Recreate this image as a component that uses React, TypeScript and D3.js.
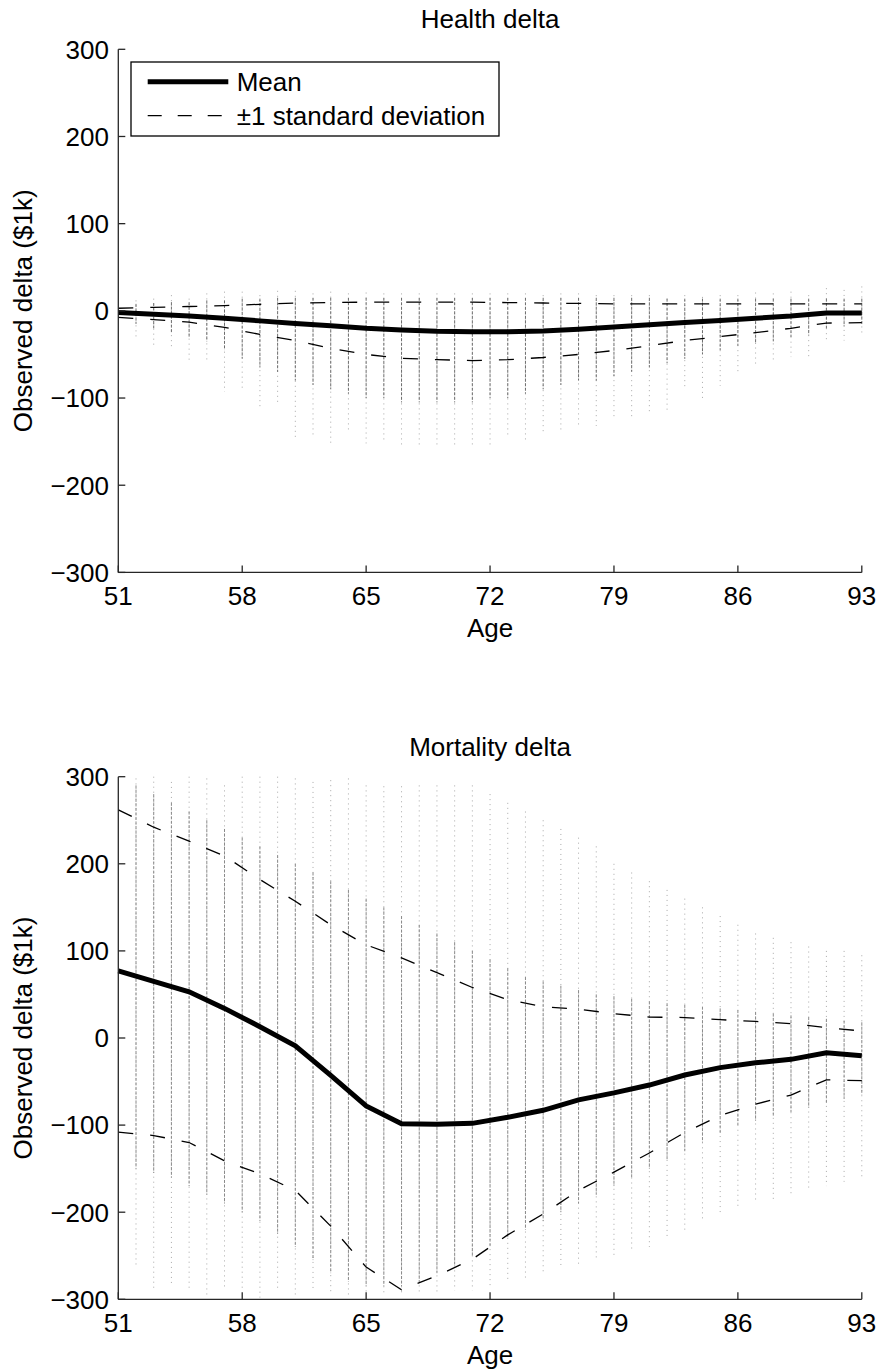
import React, { useEffect, useRef } from "react";
import * as d3 from "d3";

// ages of the summary lines (every 2 years)
const lineAges = [51, 53, 55, 57, 59, 61, 63, 65, 67, 69, 71, 73, 75, 77, 79, 81, 83, 85, 87, 89, 91, 93];
// ages of the scatter columns (one per year)
const colAges = d3.range(52, 94);

// Health delta panel
const healthMean = [-2, -4, -6, -8.5, -11.5, -14.5, -17, -20, -22, -23.5, -24, -24, -23, -21, -18.5, -16, -13.5, -11, -8.5, -6, -2.5, -2.5];
const healthUpper = [3, 4, 5, 6, 7.5, 9, 9.5, 10, 10, 10, 10, 9.5, 9, 8.5, 8, 8, 8, 8, 8, 8, 8, 8];
const healthLower = [-7.5, -10, -13, -19, -27, -34, -43, -50, -54.5, -56, -57, -56, -53.5, -50, -45.5, -40, -34, -29.5, -25, -20, -14, -13.5];
const healthColTop = [12, 14, 18, 14, 20, 22, 22, 18, 23, 23, 20, 22, 20, 21, 20, 20, 20, 20, 20, 20, 20, 20, 20, 18, 20, 20, 18, 18, 18, 18, 14, 18, 16, 18, 18, 21, 20, 22, 18, 26, 24, 28];
const healthColBottom = [-32, -43, -43, -60, -56, -93, -91, -113, -107, -147, -145, -155, -140, -152, -152, -154, -155, -156, -156, -154, -154, -146, -150, -139, -139, -132, -132, -121, -124, -118, -116, -91, -103, -86, -70, -61, -56, -53, -56, -34, -34, -26];
const healthCoreTop = [8, 9, 10, 10, 12, 12, 14, 14, 15, 15, 15, 15, 15, 15, 15, 15, 15, 15, 15, 15, 15, 15, 15, 15, 15, 15, 15, 15, 15, 15, 14, 14, 14, 14, 14, 14, 14, 14, 14, 14, 14, 14];
const healthCoreBottom = [-15, -20, -25, -30, -35, -45, -55, -65, -70, -80, -85, -90, -95, -100, -100, -105, -105, -105, -105, -105, -100, -100, -95, -90, -85, -80, -80, -75, -70, -65, -60, -55, -50, -45, -40, -38, -35, -30, -28, -20, -18, -15];

// Mortality delta panel
const mortMean = [77, 65, 53, 34, 13, -9, -43, -78, -98.5, -99, -98, -91, -83, -71, -63, -54, -42.5, -34, -28.5, -24.5, -17, -20.5];
const mortUpper = [262, 242, 226, 209, 182, 157, 130, 107, 92, 75, 58, 44, 36, 33, 28, 24, 23.5, 21, 19, 16.5, 12, 8];
const mortLower = [-108, -112, -120, -141, -156, -175, -216, -263, -289, -273, -254, -226, -202, -175, -154, -132, -108.5, -89, -76, -65.5, -48, -49];
const mortColTop = [298, 300, 294, 300, 298, 290, 300, 300, 300, 298, 294, 296, 298, 290, 289, 289, 290, 290, 290, 290, 280, 270, 260, 250, 240, 230, 220, 200, 190, 180, 170, 160, 150, 140, 130, 120, 115, 110, 105, 100, 100, 95];
const mortColBottom = [-262, -287, -285, -287, -298, -286, -290, -298, -290, -298, -290, -295, -295, -295, -295, -295, -295, -292, -290, -290, -285, -280, -275, -270, -265, -260, -255, -250, -245, -240, -230, -220, -210, -200, -195, -190, -185, -180, -175, -170, -165, -160];
const mortCoreTop = [290, 280, 270, 260, 250, 240, 230, 220, 210, 200, 190, 180, 170, 160, 150, 140, 130, 120, 110, 100, 90, 80, 70, 65, 60, 55, 50, 48, 45, 42, 40, 38, 36, 34, 32, 30, 28, 26, 24, 22, 20, 18];
const mortCoreBottom = [-150, -155, -160, -170, -180, -190, -200, -210, -225, -240, -255, -270, -280, -285, -285, -285, -280, -270, -260, -250, -240, -230, -220, -210, -200, -190, -180, -170, -160, -150, -140, -130, -120, -110, -100, -95, -90, -85, -80, -75, -70, -65];

const xTicks = [51, 58, 65, 72, 79, 86, 93];
const yTicks = [-300, -200, -100, 0, 100, 200, 300];

const FONT = "'Liberation Sans', Arial, sans-serif";

function App() {
  const ref = useRef<SVGSVGElement>(null);

  useEffect(() => {
    const svg = d3.select(ref.current);
    svg.selectAll("*").remove();

    const width = 881;
    const height = 1372;
    svg.attr("width", width).attr("height", height);

    const x = d3.scaleLinear().domain([51, 93]).range([118.3, 861.8]);

    const panels = [
      {
        title: "Health delta", top: 49.3, bottom: 572.4,
        mean: healthMean, upper: healthUpper, lower: healthLower,
        colTop: healthColTop, colBottom: healthColBottom,
        coreTop: healthCoreTop, coreBottom: healthCoreBottom,
        coreColor: "#6e6e6e", legend: true,
      },
      {
        title: "Mortality delta", top: 776.7, bottom: 1299.3,
        mean: mortMean, upper: mortUpper, lower: mortLower,
        colTop: mortColTop, colBottom: mortColBottom,
        coreTop: mortCoreTop, coreBottom: mortCoreBottom,
        coreColor: "#8a8a8a", legend: false,
      },
    ];

    panels.forEach(p => {
      const y = d3.scaleLinear().domain([-300, 300]).range([p.bottom, p.top]);
      const g = svg.append("g");

      // scatter columns: sparse tails first, then the dense core
      g.selectAll("line.col")
        .data(colAges)
        .enter()
        .append("line")
        .attr("x1", d => x(d)).attr("x2", d => x(d))
        .attr("y1", (d, i) => y(p.colTop[i]))
        .attr("y2", (d, i) => y(p.colBottom[i]))
        .attr("stroke", "#a8a8a8")
        .attr("stroke-width", 1)
        .attr("stroke-dasharray", "1,4");

      g.selectAll("line.core")
        .data(colAges)
        .enter()
        .append("line")
        .attr("x1", d => x(d)).attr("x2", d => x(d))
        .attr("y1", (d, i) => y(p.coreTop[i]))
        .attr("y2", (d, i) => y(p.coreBottom[i]))
        .attr("stroke", p.coreColor)
        .attr("stroke-width", 1)
        .attr("stroke-dasharray", "3,1.5");

      const line = (vals: number[]) =>
        d3.line<number>().x((d, i) => x(lineAges[i])).y(d => y(d))(vals);

      [p.upper, p.lower].forEach(vals => {
        g.append("path")
          .attr("d", line(vals))
          .attr("fill", "none")
          .attr("stroke", "#000")
          .attr("stroke-width", 1.3)
          .attr("stroke-dasharray", "15,17");
      });

      g.append("path")
        .attr("d", line(p.mean))
        .attr("fill", "none")
        .attr("stroke", "#000")
        .attr("stroke-width", 5);

      // axes (left and bottom only, ticks pointing in)
      const axisColor = "#262626";
      g.append("line")
        .attr("x1", x(51)).attr("x2", x(51))
        .attr("y1", p.top).attr("y2", p.bottom)
        .attr("stroke", axisColor).attr("stroke-width", 1.3);
      g.append("line")
        .attr("x1", x(51)).attr("x2", x(93))
        .attr("y1", p.bottom).attr("y2", p.bottom)
        .attr("stroke", axisColor).attr("stroke-width", 1.3);

      yTicks.forEach(t => {
        g.append("line")
          .attr("x1", x(51)).attr("x2", x(51) + 7)
          .attr("y1", y(t)).attr("y2", y(t))
          .attr("stroke", axisColor).attr("stroke-width", 1.3);
        g.append("text")
          .attr("x", 109)
          .attr("y", y(t) + 9.3)
          .attr("text-anchor", "end")
          .attr("font-family", FONT)
          .attr("font-size", 26)
          .text(t < 0 ? "\u2212" + Math.abs(t) : String(t));
      });

      xTicks.forEach(t => {
        g.append("line")
          .attr("x1", x(t)).attr("x2", x(t))
          .attr("y1", p.bottom).attr("y2", p.bottom - 7)
          .attr("stroke", axisColor).attr("stroke-width", 1.3);
        g.append("text")
          .attr("x", x(t))
          .attr("y", p.bottom + 32.6)
          .attr("text-anchor", "middle")
          .attr("font-family", FONT)
          .attr("font-size", 26)
          .text(String(t));
      });

      const cx = (x(51) + x(93)) / 2;
      g.append("text")
        .attr("x", cx).attr("y", p.top - 21)
        .attr("text-anchor", "middle")
        .attr("font-family", FONT).attr("font-size", 26)
        .text(p.title);

      g.append("text")
        .attr("x", cx).attr("y", p.bottom + 64.5)
        .attr("text-anchor", "middle")
        .attr("font-family", FONT).attr("font-size", 26)
        .text("Age");

      g.append("text")
        .attr("transform", `translate(31.5,${(p.top + p.bottom) / 2}) rotate(-90)`)
        .attr("text-anchor", "middle")
        .attr("font-family", FONT).attr("font-size", 26)
        .text("Observed delta ($1k)");

      if (p.legend) {
        const lg = g.append("g");
        lg.append("rect")
          .attr("x", 131).attr("y", 62)
          .attr("width", 368).attr("height", 74)
          .attr("fill", "#fff").attr("stroke", "#000").attr("stroke-width", 1.3);
        lg.append("line")
          .attr("x1", 147.7).attr("x2", 228.3)
          .attr("y1", 81.7).attr("y2", 81.7)
          .attr("stroke", "#000").attr("stroke-width", 5);
        lg.append("text")
          .attr("x", 236.7).attr("y", 91)
          .attr("font-family", FONT).attr("font-size", 26)
          .text("Mean");
        lg.append("line")
          .attr("x1", 147.7).attr("x2", 228.3)
          .attr("y1", 115.7).attr("y2", 115.7)
          .attr("stroke", "#000").attr("stroke-width", 1.3)
          .attr("stroke-dasharray", "14,16");
        lg.append("text")
          .attr("x", 236.7).attr("y", 125)
          .attr("font-family", FONT).attr("font-size", 26)
          .text("\u00b11 standard deviation");
      }
    });
  }, []);

  return (
    <svg
      ref={ref}
      style={{ position: "absolute", left: 0, top: 0, background: "#fff" }}
    ></svg>
  );
}

export default App;
